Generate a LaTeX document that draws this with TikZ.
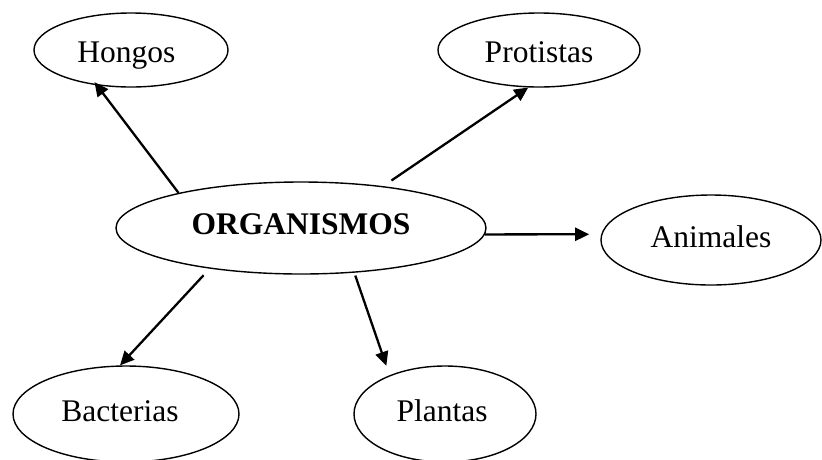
\documentclass[tikz,border=0pt]{standalone}
\usepackage{fontspec}
\setmainfont{Liberation Serif}
\usetikzlibrary{shapes.geometric,arrows.meta}
\begin{document}
\begin{tikzpicture}[x=1pt,y=-1pt,
  ell/.style={ellipse,draw,line width=1.4pt,inner sep=0pt,text depth=0pt,text height=14pt,
    font=\fontsize{31.5}{36}\selectfont},
  conn/.style={line width=2.3pt,-{Triangle[length=14pt,width=13pt]}}]
\useasboundingbox (0,0) rectangle (822,459);
\node[ell,minimum width=194pt,minimum height=74pt,text height=24pt] (hongos) at (131,50) {Hongos\kern9pt};
\node[ell,minimum width=202pt,minimum height=74pt,text height=24pt] (prot) at (539,50) {Protistas};
\node[ell,minimum width=370pt,minimum height=92pt,text height=12pt] (org) at (301,228) {\textbf{ORGANISMOS}};
\node[ell,minimum width=220pt,minimum height=90pt] (anim) at (711,240) {Animales};
\node[ell,minimum width=226pt,minimum height=96pt] (bact) at (126,414) {Bacterias\kern12pt};
\node[ell,minimum width=182pt,minimum height=96pt] (plant) at (445,414) {Plantas\kern6pt};
\draw[conn,shorten >=-4pt] (org.164) -- (hongos.226);
\draw[conn,shorten <=10pt] (org.27) -- (prot.254);
\draw[conn,shorten >=12pt] (org.358) -- (anim.177);
\draw[conn,shorten <=9pt] (org.204) -- (bact.97);
\draw[conn,shorten <=3pt,shorten >=10pt] (org.320) -- (plant.145);
\end{tikzpicture}
\end{document}
